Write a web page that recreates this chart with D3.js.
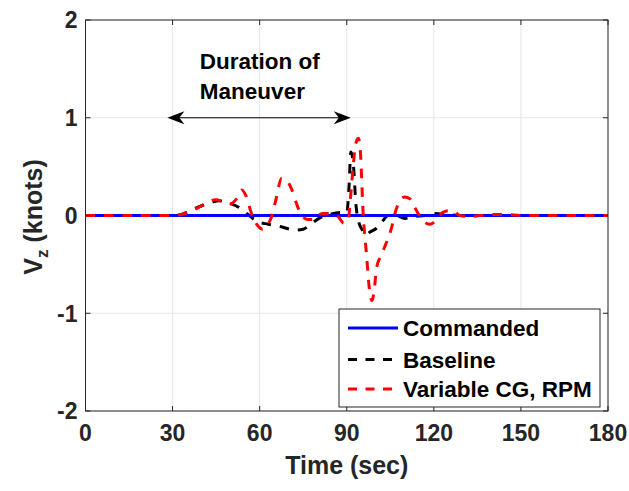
<!DOCTYPE html>
<html>
<head>
<meta charset="utf-8">
<script src="https://cdn.jsdelivr.net/npm/d3@7"></script>
<style>
  html, body { margin: 0; padding: 0; background: #fff; }
  text { font-family: "Liberation Sans", Arial, Helvetica, sans-serif; font-weight: bold; fill: #262626; }
</style>
</head>
<body>
<svg id="chart" width="629" height="491"></svg>
<script>
// ---- data ----
const xTicks = [0, 30, 60, 90, 120, 150, 180];
const yTicks = [-2, -1, 0, 1, 2];
const seriesNames = ["Commanded", "Baseline", "Variable CG, RPM"];

const commandedT = [0, 180];
const commandedV = [0, 0];

const baselineT = [0, 30, 33, 36, 40, 44, 46, 49, 53, 56, 59, 63, 68, 72, 75, 78, 81, 84, 88, 90,
  90.8, 91.4, 92.2, 93.2, 94, 95.2, 96.6, 98, 100.3, 102, 104.3, 107, 110, 113, 117, 120, 125, 130, 180];
const baselineV = [0, 0, 0.01, 0.05, 0.10, 0.14, 0.15, 0.13, 0.08, 0.01, -0.06, -0.09, -0.12, -0.15, -0.14, -0.08, -0.02, 0.01, 0.03, 0.03,
  0.3, 0.65, 0.55, 0.1, -0.05, -0.14, -0.2, -0.17, -0.13, -0.07, 0, 0, -0.03, -0.01, 0, 0.02, 0.01, 0, 0];

const variableT = [0, 30, 33, 36, 40, 43, 45, 47.5, 50, 52, 53.8, 55.3, 57.2, 59.5, 61, 62.5, 64, 65.5, 67.6, 69.5,
  71, 72.7, 74.5, 76.5, 78.5, 81.5, 84, 87, 89, 90.5, 91.2, 92.2, 93, 94, 94.7, 95.6, 96.8, 98, 98.7, 99.5,
  100.3, 102, 104, 105.5, 106.6, 108.3, 110, 111.8, 113.5, 114.6, 116.5, 118.6, 120, 121.5, 123, 125, 127, 129,
  132, 136, 140, 145, 150, 180];
const variableV = [0, 0, 0.01, 0.04, 0.10, 0.15, 0.16, 0.14, 0.12, 0.17, 0.26, 0.2, 0.02, -0.11, -0.14, -0.1, -0.02, 0.15, 0.38, 0.35,
  0.27, 0.12, 0.0, -0.04, -0.04, 0.02, 0.02, -0.01, -0.08, -0.05, 0.15, 0.5, 0.72, 0.79, 0.65, 0.05, -0.4, -0.8, -0.87, -0.75,
  -0.53, -0.4, -0.25, -0.12, 0.02, 0.15, 0.19, 0.17, 0.08, 0.02, -0.06, -0.09, -0.07, -0.02, 0.03, 0.05, 0.04, 0.0,
  -0.01, 0, 0.01, 0.01, 0, 0];

const annotationLines = ["Duration of", "Maneuver"];
const annotationT = 39.4;
const arrowT = [28.2, 91.4];
const arrowV = 1;

// ---- layout ----
const svg = d3.select("#chart");
const L = 85.5, R = 608, T = 20, B = 411;
const x = d3.scaleLinear().domain([0, 180]).range([L, R]);
const y = d3.scaleLinear().domain([-2, 2]).range([B, T]);

// grid
const grid = svg.append("g");
grid.selectAll("line.gx").data(xTicks).join("line")
  .attr("x1", d => x(d)).attr("x2", d => x(d)).attr("y1", T).attr("y2", B)
  .attr("stroke", "#e6e6e6").attr("stroke-width", 1);
grid.selectAll("line.gy").data(yTicks).join("line")
  .attr("y1", d => y(d)).attr("y2", d => y(d)).attr("x1", L).attr("x2", R)
  .attr("stroke", "#e6e6e6").attr("stroke-width", 1);

// clip
svg.append("defs").append("clipPath").attr("id", "clip")
  .append("rect").attr("x", L).attr("y", T).attr("width", R - L).attr("height", B - T);

const line = d3.line().x(d => x(d[0])).y(d => y(d[1])).curve(d3.curveMonotoneX);
const zipped = (ts, vs) => ts.map((t, i) => [t, vs[i]]);

const plot = svg.append("g").attr("clip-path", "url(#clip)");
plot.append("path").datum(zipped(baselineT, baselineV)).attr("d", line)
  .attr("fill", "none").attr("stroke", "#000").attr("stroke-width", 3).attr("stroke-dasharray", "9.5,9");
plot.append("path").datum(zipped(commandedT, commandedV)).attr("d", line)
  .attr("fill", "none").attr("stroke", "#0000ff").attr("stroke-width", 3);
plot.append("path").datum(zipped(variableT, variableV)).attr("d", line)
  .attr("fill", "none").attr("stroke", "#ff0000").attr("stroke-width", 3).attr("stroke-dasharray", "9.5,9");

// axes box
svg.append("rect").attr("x", L).attr("y", T).attr("width", R - L).attr("height", B - T)
  .attr("fill", "none").attr("stroke", "#262626").attr("stroke-width", 1);

// ticks (inward)
const tk = 5;
svg.selectAll("line.tx").data(xTicks).join("line")
  .attr("x1", d => x(d)).attr("x2", d => x(d)).attr("y1", B).attr("y2", B - tk)
  .attr("stroke", "#262626");
svg.selectAll("line.tx2").data(xTicks).join("line")
  .attr("x1", d => x(d)).attr("x2", d => x(d)).attr("y1", T).attr("y2", T + tk)
  .attr("stroke", "#262626");
svg.selectAll("line.ty").data(yTicks).join("line")
  .attr("y1", d => y(d)).attr("y2", d => y(d)).attr("x1", L).attr("x2", L + tk)
  .attr("stroke", "#262626");
svg.selectAll("line.ty2").data(yTicks).join("line")
  .attr("y1", d => y(d)).attr("y2", d => y(d)).attr("x1", R).attr("x2", R - tk)
  .attr("stroke", "#262626");

// tick labels
svg.selectAll("text.xl").data(xTicks).join("text")
  .attr("x", d => x(d)).attr("y", B + 30).attr("text-anchor", "middle")
  .attr("font-size", 23).text(d => d);
svg.selectAll("text.yl").data(yTicks).join("text")
  .attr("x", L - 8).attr("y", d => y(d)).attr("dy", "0.36em").attr("text-anchor", "end")
  .attr("font-size", 23).text(d => d);

// axis labels
svg.append("text").attr("x", (L + R) / 2).attr("y", 474).attr("text-anchor", "middle")
  .attr("font-size", 25).text("Time (sec)");
const yl = svg.append("text").attr("transform", `translate(42,217) rotate(-90)`)
  .attr("text-anchor", "middle").attr("font-size", 25);
yl.append("tspan").text("V");
yl.append("tspan").attr("font-size", 17).attr("dy", 6).text("z");
yl.append("tspan").attr("dy", -6).text(" (knots)");

// annotation
svg.selectAll("text.ann").data(annotationLines).join("text")
  .attr("x", x(annotationT)).attr("y", (d, i) => 68.5 + i * 30)
  .attr("font-size", 22.5).style("fill", "#000").text(d => d);

const ay = y(arrowV), ax1 = x(arrowT[0]), ax2 = x(arrowT[1]);
svg.append("line").attr("x1", ax1 + 6).attr("x2", ax2 - 6).attr("y1", ay).attr("y2", ay)
  .attr("stroke", "#000").attr("stroke-width", 1.2);
const head = (tipX, dir) => {
  const len = 17, hw = 6.5, notch = 5;
  return `M${tipX},${ay} L${tipX + dir * len},${ay - hw} L${tipX + dir * (len - notch)},${ay} L${tipX + dir * len},${ay + hw} Z`;
};
svg.append("path").attr("d", head(ax1, 1)).attr("fill", "#000");
svg.append("path").attr("d", head(ax2, -1)).attr("fill", "#000");

// legend
const lg = svg.append("g");
lg.append("rect").attr("x", 339).attr("y", 309).attr("width", 261).attr("height", 98)
  .attr("fill", "#fff").attr("stroke", "#262626").attr("stroke-width", 1);
const legendStyles = [
  { c: "#0000ff", dash: null },
  { c: "#000000", dash: "9,8.5" },
  { c: "#ff0000", dash: "9,8.5" }
];
const rowY = [328, 359.5, 389];
seriesNames.forEach((name, i) => {
  lg.append("line").attr("x1", 348).attr("x2", 398).attr("y1", rowY[i]).attr("y2", rowY[i])
    .attr("stroke", legendStyles[i].c).attr("stroke-width", 3)
    .attr("stroke-dasharray", legendStyles[i].dash);
  lg.append("text").attr("x", 403).attr("y", rowY[i]).attr("dy", "0.36em")
    .attr("font-size", 22.5).style("fill", "#000").text(name);
});
</script>
</body>
</html>
